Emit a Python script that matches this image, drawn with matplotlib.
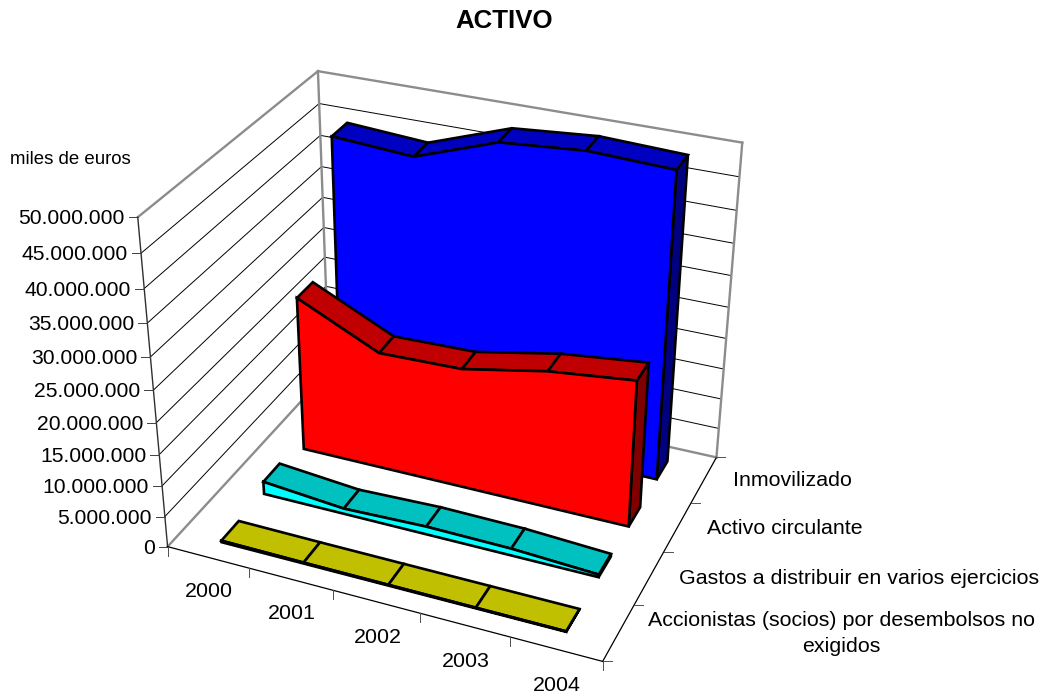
import numpy as np
import matplotlib
matplotlib.use('Agg')
import matplotlib.pyplot as plt
from matplotlib.patches import Polygon

plt.rcParams['font.family'] = ['Liberation Sans', 'DejaVu Sans']

# ---- data (thousands of euros) ----
years = ['2000', '2001', '2002', '2003', '2004']
series_names = ['Accionistas (socios) por desembolsos no\nexigidos',
                'Gastos a distribuir en varios ejercicios',
                'Activo circulante',
                'Inmovilizado']
accionistas = [250000, 160000, 130000, 110000, 90000]
gastos = [2060000, 880000, 1290000, 1130000, 440000]
circulante = [25230000, 19170000, 19500000, 22080000, 23580000]
inmovilizado = [44620000, 43770000, 48160000, 49190000, 48690000]
value_ticks = [0, 5000000, 10000000, 15000000, 20000000, 25000000,
               30000000, 35000000, 40000000, 45000000, 50000000]
value_max = 50000000

# ---- styles ----
front_cols = ['#FFFF00', '#00FFFF', '#FF0000', '#0000FF']
top_cols = ['#C0C000', '#00C0C0', '#C00000', '#0000C0']
side_cols = ['#808000', '#008080', '#800000', '#000080']
GREY = '#8c8c8c'
FS = 15.4

# ---- camera: projective map (category, depth, value fraction) -> pixel ----
corners = {(0, 0, 0): (167.7, 546), (5, 0, 0): (602.3, 662.3), (5, 4, 0): (716.7, 456),
           (0, 0, 1): (138, 217), (0, 4, 1): (317.7, 70.7), (5, 4, 1): (742.3, 143.3),
           (0, 4, 0): (329, 372)}
A, b = [], []
for (x, d, v), (u, w) in corners.items():
    A.append([x, d, v, 1, 0, 0, 0, 0, -u*x, -u*d, -u*v]); b.append(u)
    A.append([0, 0, 0, 0, x, d, v, 1, -w*x, -w*d, -w*v]); b.append(w)
cam = np.append(np.linalg.lstsq(np.array(A, float), np.array(b, float), rcond=None)[0], 1).reshape(3, 4)


def pr(x, d, val):
    q = cam @ np.array([x, d, val / value_max, 1.0])
    return q[0] / q[2], q[1] / q[2]


fig = plt.figure(figsize=(10.45, 6.97), dpi=100)
ax = fig.add_axes([0, 0, 1, 1])
ax.set_xlim(0, 1045)
ax.set_ylim(697, 0)
ax.axis('off')


def line(p, q, color='black', lw=0.7, z=1):
    ax.plot([p[0], q[0]], [p[1], q[1]], color=color, lw=lw, zorder=z,
            solid_capstyle='projecting')


nx = len(years)
nd = len(series_names)

# walls
for t in value_ticks[1:-1]:
    line(pr(0, 0, t), pr(0, nd, t))
    line(pr(0, nd, t), pr(nx, nd, t))
for p, q in [((0, 0, 0), (0, nd, 0)), ((0, nd, 0), (nx, nd, 0)),
             ((0, 0, value_max), (0, nd, value_max)),
             ((0, nd, value_max), (nx, nd, value_max)),
             ((0, nd, 0), (0, nd, value_max)),
             ((nx, nd, 0), (nx, nd, value_max))]:
    line(pr(*p), pr(*q), color=GREY, lw=1.7, z=2)

# axes lines and ticks
line(pr(0, 0, 0), pr(0, 0, value_max), color='#303030', lw=1.0, z=3)
line(pr(0, 0, 0), pr(nx, 0, 0), lw=0.9, z=3)
line(pr(nx, 0, 0), pr(nx, nd, 0), lw=0.9, z=3)
for t in value_ticks:
    u, w = pr(0, 0, t)
    line((u - 9, w), (u, w), color='#404040', z=3)
    ax.text(u - 13, w + 1.5, f'{t:,}'.replace(',', '.'), ha='right', va='center',
            fontsize=15.2, color='black')
for i in range(nx + 1):
    u, w = pr(i, 0, 0)
    line((u, w), (u, w + 9), color='#505050', z=3)
for i, y in enumerate(years):
    u, w = pr(i + 0.5, 0, 0)
    ax.text(u + 1, w + 34 + 0.7 * i, y, ha='center', va='center', fontsize=FS, color='black')
for i in range(nd + 1):
    u, w = pr(nx, i, 0)
    line((u, w), (u + 9, w), color='#505050', z=3)
for i, name in enumerate(series_names):
    u, w = pr(nx, i + 0.5, 0)
    ax.text(u + 29.5, w + 1, name, ha='left', va='center', fontsize=FS, color='black',
            multialignment='center', linespacing=1.42)

# series ribbons, back to front
d_front, d_back = 0.3, 0.7
edge = dict(edgecolor='black', linewidth=1.9, joinstyle='miter')
all_series = [accionistas, gastos, circulante, inmovilizado]
z = 10
for k in range(nd - 1, -1, -1):
    vals = all_series[k]
    df, db = k + d_front, k + d_back
    xs = [i + 0.5 for i in range(nx)]
    # right end
    ax.add_patch(Polygon([pr(xs[-1], df, 0), pr(xs[-1], db, 0), pr(xs[-1], db, vals[-1]),
                          pr(xs[-1], df, vals[-1])], facecolor=side_cols[k], zorder=z, **edge))
    # top strips
    for i in range(nx - 1):
        ax.add_patch(Polygon([pr(xs[i], df, vals[i]), pr(xs[i], db, vals[i]),
                              pr(xs[i + 1], db, vals[i + 1]), pr(xs[i + 1], df, vals[i + 1])],
                             facecolor=top_cols[k], zorder=z, **edge))
    # front face
    outline = [pr(xs[0], df, 0)] + [pr(x, df, v) for x, v in zip(xs, vals)] + [pr(xs[-1], df, 0)]
    ax.add_patch(Polygon(outline, facecolor=front_cols[k], zorder=z + 1, **edge))
    z += 2

# titles
ax.text(504, 21, 'ACTIVO', ha='center', va='center', fontsize=18.6, fontweight='bold', color='black')
ax.text(10, 160, 'miles de euros', ha='left', va='center', fontsize=13.4, color='black')

fig.savefig('out.png', dpi=100)
